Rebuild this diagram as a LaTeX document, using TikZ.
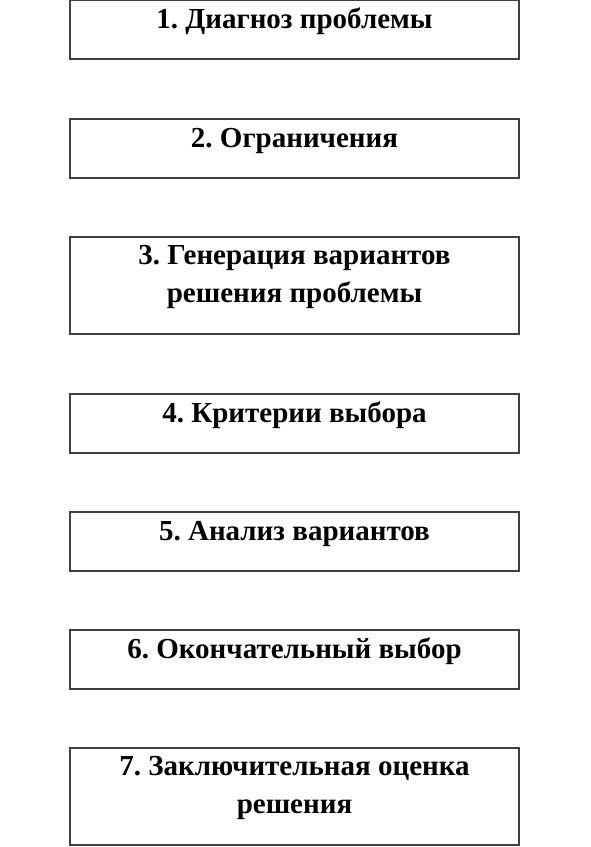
\documentclass[tikz,border=0pt]{standalone}
\usepackage{fontspec}
\setmainfont{Liberation Serif}
\frenchspacing
\usetikzlibrary{positioning}

\tikzset{
  stepbox/.style={draw=black!75, line width=1.6pt, minimum width=449pt, minimum height=59pt, inner sep=0pt},
  tallbox/.style={stepbox, minimum height=97pt},
  steptext/.style={anchor=base, inner sep=0pt, align=center, font=\bfseries\fontsize{29}{38}\selectfont}
}

\begin{document}
\begin{tikzpicture}[x=1pt, y=-1pt]
      \useasboundingbox (0,0) rectangle (591,847);

      \node[stepbox] (b1) at (294.5,29.5) {};
      \node[stepbox] (b2) at (294.5,148.5) {};
      \node[tallbox] (b3) at (294.5,285.5) {};
      \node[stepbox] (b4) at (294.5,423.5) {};
      \node[stepbox] (b5) at (294.5,541.5) {};
      \node[stepbox] (b6) at (294.5,659.5) {};
      \node[tallbox] (b7) at (294.5,796.5) {};

      % base anchor sits on the last line
      \node[steptext] (t1) at ([yshift=-29pt]b1.north) {1. Диагноз проблемы};
      \node[steptext] (t2) at ([yshift=-29pt]b2.north) {2. Ограничения};
      \node[steptext] (t3) at ([yshift=-66pt]b3.north) {3. Генерация вариантов\\решения проблемы};
      \node[steptext] (t4) at ([yshift=-29pt]b4.north) {4. Критерии выбора};
      \node[steptext] (t5) at ([yshift=-29pt]b5.north) {5. Анализ вариантов};
      \node[steptext] (t6) at ([yshift=-29pt]b6.north) {6. Окончательный выбор};
      \node[steptext] (t7) at ([yshift=-66pt]b7.north) {7. Заключительная оценка\\решения};
    \end{tikzpicture}
\end{document}
